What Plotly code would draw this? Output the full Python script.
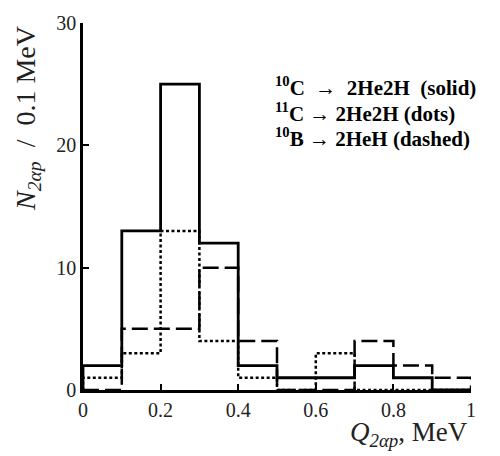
import plotly.graph_objects as go

# Bin edges (MeV) and counts per 0.1 MeV
bin_edges = [0.0, 0.1, 0.2, 0.3, 0.4, 0.5, 0.6, 0.7, 0.8, 0.9, 1.0]
counts_10C = [2, 13, 25, 12, 2, 1, 1, 2, 1, 0]      # solid
counts_11C = [1, 3, 13, 4, 1, 0, 3, 0, 0, 0]        # dots
counts_10B = [0, 5, 5, 10, 4, 0, 0, 4, 2, 1]        # dashed

x_ticks = [0, 0.2, 0.4, 0.6, 0.8, 1]
x_tick_text = ["0", "0.2", "0.4", "0.6", "0.8", "1"]
y_ticks = [0, 10, 20, 30]
y_tick_text = ["0", "10", "20", "30"]

legend_lines = [
    "<sup>10</sup>C\u00a0\u00a0→\u00a0\u00a02He2H\u00a0\u00a0(solid)",
    "<sup>11</sup>C\u00a0→\u00a02He2H\u00a0(dots)",
    "<sup>10</sup>B\u00a0→\u00a02HeH\u00a0(dashed)",
]


def step_xy(edges, vals):
    xs = [edges[0]] + edges[:-1] + [edges[-1], edges[-1]]
    ys = [0] + vals + [vals[-1], 0]
    return xs, ys


fig = go.Figure()
styles = [
    (counts_10B, "16px,6px", 2.5),
    (counts_11C, "3px,2.5px", 2.5),
    (counts_10C, "solid", 2.8),
]
for vals, dash, w in styles:
    xs, ys = step_xy(bin_edges, vals)
    fig.add_trace(go.Scatter(x=xs, y=ys, mode="lines", line_shape="hv",
                             line=dict(color="black", width=w, dash=dash),
                             showlegend=False, hoverinfo="skip"))

serif = "Liberation Serif"
fig.update_layout(
    width=500, height=456,
    margin=dict(l=83, r=29, t=15, b=66),
    paper_bgcolor="white", plot_bgcolor="white",
    font=dict(family=serif, color="black", size=20),
    xaxis=dict(range=[0, 1], tickvals=x_ticks, ticktext=x_tick_text,
               showgrid=False, zeroline=False, showline=True,
               linecolor="black", linewidth=2.5, ticks="inside",
               ticklen=6, tickwidth=2, tickcolor="black",
               tickfont=dict(family=serif, size=20, color="#222")),
    yaxis=dict(range=[0, 30], tickvals=y_ticks, ticktext=y_tick_text,
               showgrid=False, zeroline=False, showline=True,
               linecolor="black", linewidth=2.5, ticks="inside",
               ticklen=6, tickwidth=2, tickcolor="black",
               tickfont=dict(family=serif, size=20, color="#222")),
)

# legend text
legend_y = [80, 106, 132]
for txt, py in zip(legend_lines, legend_y):
    fig.add_annotation(text="<b>" + txt + "</b>", xref="paper", yref="paper",
                       x=(273 - 83) / 388, y=(390 - py) / 375,
                       xanchor="left", yanchor="middle", showarrow=False,
                       font=dict(family=serif, size=21, color="black"))

# axis titles
fig.add_annotation(text="<i>Q</i><sub><i>2αp</i></sub>, MeV",
                   xref="paper", yref="paper",
                   x=(470 - 83) / 388, y=(390 - 435) / 375,
                   xanchor="right", yanchor="middle", showarrow=False,
                   font=dict(family=serif, size=27, color="#222"))
fig.add_annotation(text="<i>N</i><sub><i>2αp</i></sub>\u00a0\u00a0/\u00a0\u00a00.1 MeV",
                   xref="paper", yref="paper",
                   x=(28 - 83) / 388, y=(390 - 113) / 375,
                   xanchor="center", yanchor="middle", textangle=-90,
                   showarrow=False,
                   font=dict(family=serif, size=28, color="#222"))

fig.write_html("out.html")
